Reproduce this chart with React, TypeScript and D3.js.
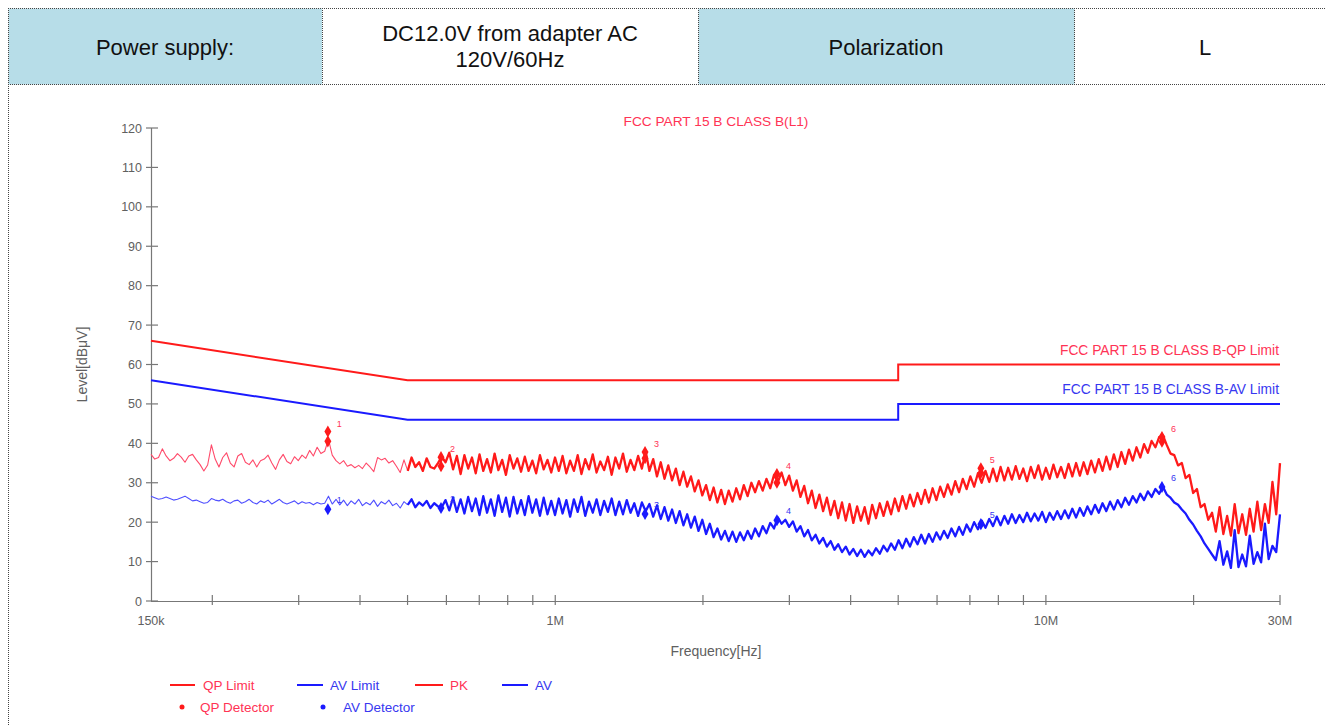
import React from 'react';
import * as d3 from 'd3';

const sweepStartHz = 150e3;
const sweepStopHz = 30e6;

const pkLevels = [
  37.2, 36.0, 36.4, 38.6, 36.8, 35.6, 36.2, 37.4, 36.5, 35.2,
  36.8, 37.2, 35.8, 34.6, 33.0, 34.5, 39.6, 36.0, 34.0, 36.4,
  37.6, 35.0, 34.0, 36.8, 37.4, 35.2, 34.6, 35.8, 34.0, 35.6,
  36.0, 37.0, 35.0, 33.4, 35.8, 37.2, 35.4, 34.8, 36.6, 35.6,
  37.0, 36.2, 38.2, 36.8, 39.0, 37.4, 38.0, 41.0, 37.0, 35.6,
  34.8, 35.6, 34.2, 34.6, 33.8, 34.4, 33.6, 35.0, 34.0, 32.8,
  36.4, 35.8, 36.2, 35.0, 35.6, 34.2, 32.6, 35.8, 33.0, 36.4,
  34.0, 35.2, 33.0, 36.2, 34.0, 33.6, 35.0, 36.6, 35.2, 37.6,
  33.4, 36.8, 32.2, 37.0, 33.6, 36.4, 32.4, 37.2, 33.0, 36.0,
  32.6, 37.4, 33.2, 35.8, 32.0, 37.0, 33.6, 36.2, 32.8, 36.6,
  33.0, 35.6, 32.4, 37.0, 33.4, 35.8, 32.6, 36.4, 33.0, 36.8,
  32.4, 35.6, 33.0, 37.0, 32.2, 36.0, 33.4, 37.2, 32.6, 35.4,
  33.2, 36.6, 32.0, 36.4, 33.6, 37.4, 32.8, 35.8, 33.2, 36.8,
  33.6, 38.0, 33.0, 36.0, 31.6, 35.2, 31.0, 34.4, 30.6, 33.6,
  29.4, 32.8, 29.0, 31.6, 27.8, 30.6, 26.8, 29.4, 25.6, 28.8,
  25.0, 28.2, 24.6, 28.0, 25.2, 28.6, 25.8, 29.4, 26.6, 30.0,
  27.6, 30.4, 28.0, 31.0, 28.6, 32.0, 30.2, 32.6, 29.4, 31.8,
  28.0, 30.6, 26.4, 29.2, 24.8, 28.0, 23.6, 27.0, 22.8, 26.2,
  21.8, 25.4, 21.0, 25.0, 20.4, 24.6, 19.8, 24.0, 20.4, 23.8,
  19.6, 24.4, 21.0, 24.8, 21.6, 25.2, 22.0, 26.0, 22.8, 26.6,
  23.4, 27.0, 24.0, 27.4, 24.6, 28.2, 25.0, 28.6, 25.6, 29.0,
  26.4, 29.6, 27.0, 30.4, 27.6, 31.0, 28.4, 31.6, 29.0, 32.4,
  30.0, 33.0, 30.2, 33.6, 30.4, 34.0, 30.6, 33.8, 30.8, 34.2,
  31.0, 33.6, 30.4, 34.0, 31.2, 34.4, 30.8, 33.8, 31.0, 34.6,
  31.4, 34.0, 31.2, 34.8, 31.6, 35.0, 31.8, 35.2, 32.2, 35.6,
  32.6, 36.0, 33.0, 36.6, 33.4, 37.2, 34.0, 37.8, 34.8, 38.4,
  35.6, 39.0, 36.4, 39.8, 37.6, 40.6, 39.0, 41.6, 42.0, 39.6,
  37.4, 37.0, 34.4, 35.0, 31.2, 32.0, 27.4, 28.4, 23.8, 24.6,
  20.6, 22.4, 17.6, 23.8, 17.0, 21.6, 16.6, 24.6, 17.2, 22.0,
  16.8, 23.4, 17.6, 25.2, 18.0, 24.6, 19.8, 30.2, 22.0, 35.0,
];

const avLevels = [
  26.6, 26.2, 25.8, 26.0, 26.4, 26.0, 25.6, 25.8, 26.2, 26.6,
  26.0, 25.4, 25.6, 25.2, 24.8, 25.0, 26.0, 25.6, 25.4, 25.8,
  25.2, 24.8, 25.4, 25.6, 24.8, 25.2, 25.8, 25.0, 24.6, 25.4,
  25.0, 25.6, 24.6, 25.2, 25.8, 25.0, 24.6, 25.0, 25.4, 24.6,
  25.2, 24.8, 25.0, 24.4, 25.0, 24.6, 24.8, 26.6, 24.6, 25.8,
  24.4, 25.6, 24.2, 25.4, 24.6, 25.8, 24.2, 25.0, 24.4, 25.6,
  24.0, 25.2, 24.6, 25.6, 24.2, 24.8, 23.6, 25.2, 24.4, 25.8,
  23.8, 25.0, 24.2, 25.4, 23.6, 24.8, 24.0, 23.8, 25.6, 23.0,
  26.2, 22.6, 25.8, 22.2, 26.4, 22.8, 26.0, 21.8, 26.6, 22.4,
  25.8, 21.6, 26.8, 22.6, 26.2, 21.4, 26.4, 22.2, 25.6, 21.8,
  26.6, 22.4, 25.8, 21.6, 26.2, 22.0, 25.4, 21.8, 26.0, 22.2,
  25.6, 21.4, 25.8, 22.6, 26.4, 21.6, 25.2, 22.4, 25.8, 21.8,
  25.4, 22.6, 26.0, 21.8, 25.2, 22.0, 25.6, 22.4, 24.8, 21.6,
  25.0, 22.8, 24.6, 21.4, 24.2, 20.8, 23.8, 20.4, 23.2, 19.8,
  22.8, 19.2, 22.0, 18.6, 21.4, 17.8, 20.6, 17.0, 19.6, 16.2,
  18.4, 15.6, 17.8, 15.2, 17.6, 15.0, 17.4, 15.4, 17.8, 15.8,
  18.4, 16.4, 19.0, 17.2, 19.8, 18.4, 21.2, 19.6, 20.6, 18.8,
  20.2, 17.6, 19.0, 16.4, 18.0, 15.4, 16.8, 14.6, 16.0, 13.8,
  15.2, 13.0, 14.4, 12.4, 13.8, 11.8, 13.2, 11.4, 13.0, 11.2,
  12.8, 11.6, 13.4, 12.0, 14.0, 12.6, 14.6, 13.0, 15.4, 13.4,
  15.8, 13.8, 16.2, 14.4, 16.8, 14.6, 17.0, 15.0, 17.4, 15.6,
  17.8, 16.0, 18.4, 16.4, 18.8, 16.8, 19.4, 17.6, 20.0, 18.2,
  20.4, 18.6, 20.8, 19.0, 21.4, 19.2, 21.6, 19.6, 22.0, 19.8,
  21.8, 20.0, 22.4, 20.2, 22.2, 20.4, 22.6, 20.0, 22.4, 20.6,
  22.8, 20.8, 23.0, 21.0, 23.4, 21.2, 23.6, 21.6, 24.0, 22.0,
  24.4, 22.4, 24.8, 22.8, 25.2, 23.2, 25.6, 23.8, 26.2, 24.4,
  26.6, 25.0, 27.2, 25.6, 27.8, 26.4, 28.4, 27.2, 29.0, 27.0,
  26.2, 25.0, 24.4, 23.2, 22.2, 20.6, 19.4, 17.8, 16.4, 14.6,
  13.2, 11.8, 10.4, 15.2, 9.2, 12.6, 8.4, 18.0, 8.6, 11.8,
  8.8, 16.6, 9.4, 12.4, 9.8, 19.6, 10.6, 14.0, 12.4, 22.0,
];

const limitFreqHz = [150e3, 500e3, 5e6, 5e6, 30e6];
const qpLimitLevels = [66, 56, 56, 60, 60];
const avLimitLevels = [56, 46, 46, 50, 50];

const markerFreqHz = [344e3, 585e3, 1.524e6, 2.83e6, 7.37e6, 17.24e6];
const markerLabels = ['1', '2', '3', '4', '5', '6'];
const qpDetectorLevels = [43.0, 36.5, 37.8, 32.2, 33.7, 41.6];
const qpPeakLevels = [40.5, 34.2, 36.2, 30.0, 32.5, 40.4];
const avDetectorLevels = [23.3, 23.6, 22.1, 20.5, 19.5, 28.9];

const yTickValues = [0, 10, 20, 30, 40, 50, 60, 70, 80, 90, 100, 110, 120];
const xLabelFreqHz = [150e3, 1e6, 10e6, 30e6];
const xLabelTexts = ['150k', '1M', '10M', '30M'];

const RED = '#ff1a1a';
const BLUE = '#1a1aff';
const TXT_RED = '#ff3355';
const TXT_BLUE = '#3838f0';
const FONT = "'Liberation Sans', Arial, Helvetica, sans-serif";
const DENSE_FROM = 68; // sweep index where the trace becomes a dense band

export default function App() {
  const x = d3.scaleLog().domain([sweepStartHz, sweepStopHz]).range([151, 1280]);
  const y = d3.scaleLinear().domain([0, 120]).range([601, 128]);

  const sweepFreq = (i: number, n: number) =>
    sweepStartHz * Math.pow(sweepStopHz / sweepStartHz, i / (n - 1));

  const traceLine = (levels: number[], from: number, to: number) => {
    const idx = d3.range(from, to);
    return (
      d3
        .line<number>()
        .x((i) => x(sweepFreq(i, levels.length)))
        .y((i) => y(levels[i]))(idx) || ''
    );
  };

  const limitLine = (levels: number[]) =>
    d3
      .line<number>()
      .x((_, i) => x(limitFreqHz[i]))
      .y((d) => y(d))(levels) || '';

  const diamond = d3.symbol(d3.symbolDiamond, 42)() || '';
  const minorTicks = x.ticks().filter((f) => f > sweepStartHz && f <= sweepStopHz);

  const dotted = { stroke: '#444', strokeWidth: 1, strokeDasharray: '1,1' };

  return (
    <svg
      width={1326}
      height={726}
      style={{ position: 'absolute', left: 0, top: 0, background: '#fff' }}
      fontFamily={FONT}
    >
      {/* header table */}
      <rect x={8.5} y={8.5} width={313.5} height={76} fill="#b7dde8" />
      <rect x={698.5} y={8.5} width={376} height={76} fill="#b7dde8" />
      <line x1={8} x2={1326} y1={8.5} y2={8.5} {...dotted} />
      <line x1={8} x2={1326} y1={84.5} y2={84.5} {...dotted} />
      <line x1={8.5} x2={8.5} y1={8} y2={726} {...dotted} />
      <line x1={322.5} x2={322.5} y1={8} y2={84} {...dotted} />
      <line x1={698.5} x2={698.5} y1={8} y2={84} {...dotted} />
      <line x1={1074.5} x2={1074.5} y1={8} y2={84} {...dotted} />
      <g fontSize={22} fill="#111" textAnchor="middle">
        <text x={165} y={55}>Power supply:</text>
        <text x={510} y={41}>DC12.0V from adapter AC</text>
        <text x={510} y={67}>120V/60Hz</text>
        <text x={886} y={55}>Polarization</text>
        <text x={1205} y={55}>L</text>
      </g>

      {/* title */}
      <text x={716} y={126} fontSize={13.7} fill={TXT_RED} textAnchor="middle">
        FCC PART 15 B CLASS B(L1)
      </text>

      {/* y axis */}
      <line x1={151.5} x2={151.5} y1={y(120)} y2={y(0)} stroke="#777" strokeWidth={1.2} />
      {yTickValues.map((v) => (
        <g key={'y' + v}>
          <line x1={146} x2={158} y1={y(v)} y2={y(v)} stroke="#777" strokeWidth={1.2} />
          <text x={142} y={y(v)} dy="0.36em" fontSize={12.5} fill="#606060" textAnchor="end">
            {v}
          </text>
        </g>
      ))}
      <text
        transform={`translate(87,${y(60)}) rotate(-90)`}
        fontSize={14}
        fill="#606060"
        textAnchor="middle"
      >
        Level[dBμV]
      </text>

      {/* x axis */}
      <line x1={151} x2={1280} y1={601.5} y2={601.5} stroke="#777" strokeWidth={1.2} />
      {minorTicks.map((f) => (
        <line key={'xt' + f} x1={x(f)} x2={x(f)} y1={595} y2={605} stroke="#777" strokeWidth={1.2} />
      ))}
      {xLabelFreqHz.map((f, i) => (
        <text key={'xl' + f} x={x(f)} y={625} fontSize={12.5} fill="#606060" textAnchor="middle">
          {xLabelTexts[i]}
        </text>
      ))}
      <text x={716} y={656} fontSize={14} fill="#606060" textAnchor="middle">
        Frequency[Hz]
      </text>

      {/* limits */}
      <path d={limitLine(qpLimitLevels)} fill="none" stroke={RED} strokeWidth={2} />
      <path d={limitLine(avLimitLevels)} fill="none" stroke={BLUE} strokeWidth={2} />
      <text x={1279} y={y(60) - 10} fontSize={13.8} fill={TXT_RED} textAnchor="end">
        FCC PART 15 B CLASS B-QP Limit
      </text>
      <text x={1279} y={y(50) - 10} fontSize={13.8} fill={TXT_BLUE} textAnchor="end">
        FCC PART 15 B CLASS B-AV Limit
      </text>

      {/* traces: thin sparse part, then the dense band */}
      <path d={traceLine(avLevels, 0, DENSE_FROM + 1)} fill="none" stroke="#5050ff" strokeWidth={1.1} strokeLinejoin="round" />
      <path d={traceLine(avLevels, DENSE_FROM, avLevels.length)} fill="none" stroke={BLUE} strokeWidth={2.3} strokeLinejoin="round" />
      <path d={traceLine(pkLevels, 0, DENSE_FROM + 1)} fill="none" stroke="#ff4a6a" strokeWidth={1.1} strokeLinejoin="round" />
      <path d={traceLine(pkLevels, DENSE_FROM, pkLevels.length)} fill="none" stroke={RED} strokeWidth={2.3} strokeLinejoin="round" />

      {/* markers */}
      {markerFreqHz.map((f, i) => (
        <g key={'m' + i}>
          <path d={diamond} transform={`translate(${x(f)},${y(qpPeakLevels[i])})`} fill={RED} />
          <path d={diamond} transform={`translate(${x(f)},${y(qpDetectorLevels[i])})`} fill={RED} />
          <path d={diamond} transform={`translate(${x(f)},${y(avDetectorLevels[i])})`} fill={BLUE} />
          <text x={x(f) + 9} y={y(qpDetectorLevels[i]) - 5} fontSize={9} fill={TXT_RED}>
            {markerLabels[i]}
          </text>
          <text x={x(f) + 9} y={y(avDetectorLevels[i]) - 6} fontSize={9} fill={TXT_BLUE}>
            {markerLabels[i]}
          </text>
        </g>
      ))}

      {/* legend */}
      <g fontSize={13.5}>
        <line x1={170} x2={195} y1={685} y2={685} stroke={RED} strokeWidth={2} />
        <text x={203} y={690} fill={TXT_RED}>QP Limit</text>
        <line x1={297} x2={323} y1={685} y2={685} stroke={BLUE} strokeWidth={2} />
        <text x={330} y={690} fill={TXT_BLUE}>AV Limit</text>
        <line x1={415} x2={443} y1={685} y2={685} stroke={RED} strokeWidth={2} />
        <text x={450} y={690} fill={TXT_RED}>PK</text>
        <line x1={502} x2={528} y1={685} y2={685} stroke={BLUE} strokeWidth={2} />
        <text x={535} y={690} fill={TXT_BLUE}>AV</text>
        <circle cx={182} cy={707} r={2.5} fill={RED} />
        <text x={200} y={712} fill={TXT_RED}>QP Detector</text>
        <circle cx={323} cy={707} r={2.5} fill={BLUE} />
        <text x={343} y={712} fill={TXT_BLUE}>AV Detector</text>
      </g>
    </svg>
  );
}
